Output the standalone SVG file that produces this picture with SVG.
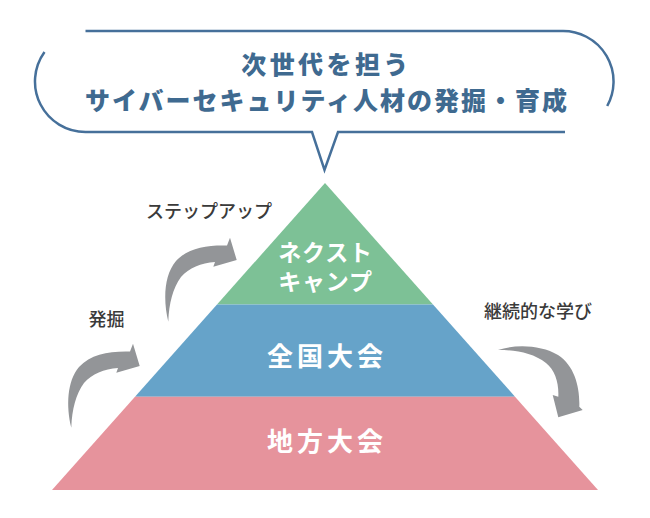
<svg xmlns="http://www.w3.org/2000/svg" width="650" height="518" viewBox="0 0 650 518">
<defs>
<style>
.bubble{fill:none;stroke:#46709a;stroke-width:2.5;stroke-linejoin:miter}
.title{font-family:"Noto Sans CJK JP","Noto Sans",sans-serif;font-weight:900;font-size:25px;fill:#3f6a90;text-anchor:middle;dominant-baseline:central}
.tier{font-family:"Noto Sans CJK JP","Noto Sans",sans-serif;font-weight:700;fill:#ffffff;text-anchor:middle;dominant-baseline:central}
.side{font-family:"Noto Sans CJK JP","Noto Sans",sans-serif;font-weight:500;font-size:18px;fill:#3a3a3a;text-anchor:middle;dominant-baseline:central}
.arrow{fill:#939598}
</style>
<path id="curl" d="M168.3,321.7 C163,300 164,275 176,261 C188,248 206,245 227,245.5 L230,237.7 L236.7,260 L213.3,266.7 L215,262 C201,263 189,268 181,277 C173,288 169,303 168.3,321.7 Z"/>
</defs>
<rect width="650" height="518" fill="#ffffff"/>

<g id="bubble">
<path class="bubble" d="M85.5,31 H563 A50.5,50.5 0 0 1 607.2,106"/>
<path class="bubble" d="M44.5,52 A50.5,50.5 0 0 0 85.5,132 H312 L324.5,170 L338,132 H565"/>
<text class="title" x="326.5" y="63" style="letter-spacing:3.4px">次世代を担う</text>
<text class="title" x="327" y="98.5" style="letter-spacing:2px">サイバーセキュリティ人材の発掘・育成</text>
</g>

<g id="tier-next">
<polygon points="325,183 433,304.5 217,304.5" fill="#7dc196"/>
<text class="tier" font-size="23" style="letter-spacing:0.8px"><tspan x="325.5" y="251">ネクスト</tspan><tspan x="325.5" y="280">キャンプ</tspan></text>
</g>

<g id="tier-national">
<polygon points="217,304.5 433,304.5 515,396.7 135,396.7" fill="#66a3c9"/>
<text class="tier" x="327" y="354.5" font-size="26" style="letter-spacing:4px">全国大会</text>
</g>

<g id="tier-regional">
<polygon points="135,396.7 515,396.7 598,490 52,490" fill="#e6939c"/>
<text class="tier" x="327" y="439.5" font-size="26" style="letter-spacing:4px">地方大会</text>
</g>

<g id="connectors">
<use href="#curl" class="arrow"/>
<use href="#curl" class="arrow" transform="translate(-97,106)"/>
<path class="arrow" d="M498,350 C516,344 541,345 558,355 C575,366 580,388 579.3,406.7 L582.7,410 L558.3,417.3 L552.7,395 L558.3,396.7 C559,383 555,370 546,363 C533,353 516,350 498,350 Z"/>
</g>

<g id="labels">
<text class="side" x="209" y="210">ステップアップ</text>
<text class="side" x="106.5" y="318">発掘</text>
<text class="side" x="538" y="310">継続的な学び</text>
</g>
</svg>
